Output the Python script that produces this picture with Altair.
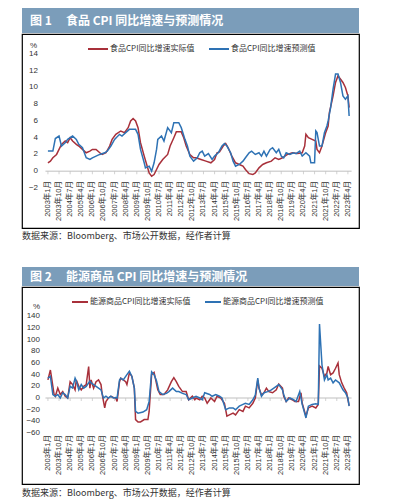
import altair as alt
import pandas as pd

FONT = "Liberation Sans, Noto Sans CJK SC, sans-serif"
CJK = "Noto Sans CJK SC, Liberation Sans, sans-serif"

# month index 0 = 2003年1月
tick_months = list(range(0, 244, 9))

# ---- 图1 食品CPI ----
food_names = ["食品CPI同比增速实际值", "食品CPI同比增速预测值"]
food_act_m = [0,2,4,7,9,11,14,16,18,20,23,25,28,31,34,36,39,42,44,47,50,52,55,59,62,65,67,69,71,73,
              75,78,80,82,84,86,88,90,93,97,99,102,104,108,110,112,115,118,120,124,128,132,135,137,139,142,144,146,149,152,
              155,158,160,163,166,168,171,174,177,181,184,187,190,194,198,202,206,208,209,211,214,217,218,220,222,225,227,228,231,233,
              235,236,239,241,243,244]
food_act_v = [1.0,1.2,1.6,2.0,2.6,3.2,3.6,3.4,4.0,3.6,3.2,3.0,2.6,2.2,2.4,2.6,2.6,2.2,2.0,2.2,
              3.0,3.8,4.4,4.8,4.6,5.2,6.0,6.3,6.0,5.2,3.4,1.8,0.8,-0.2,-0.6,-0.4,0.2,0.8,1.4,2.0,
              3.0,4.0,4.7,4.7,4.0,3.0,2.0,1.6,1.6,1.4,1.2,1.0,1.4,2.2,2.3,3.0,3.3,2.8,1.8,1.0,
              0.8,0.6,0.2,-0.3,-0.4,-0.2,0.4,0.8,1.0,1.2,1.6,1.4,1.6,2.0,2.2,2.1,2.2,3.0,4.4,4.0,
              3.8,3.6,2.6,2.2,3.0,4.6,5.4,7.0,9.0,10.6,11.4,11.2,10.6,10.0,9.0,7.6]
food_fc_m = [0,4,6,9,11,14,16,20,23,25,28,31,34,36,39,42,46,48,51,54,58,60,63,66,71,73,75,78,79,82,
             84,86,88,89,92,94,97,100,102,106,108,111,113,115,118,121,123,125,127,130,133,135,138,141,143,145,148,150,152,155,
             158,160,163,165,168,171,173,175,177,180,182,185,187,189,191,193,196,199,201,204,206,209,212,213,216,217,218,220,222,224,
             226,227,229,231,233,235,237,239,241,243,244]
food_fc_v = [2.4,2.4,3.9,4.2,3.0,3.4,3.8,4.2,3.8,3.2,2.8,1.6,1.4,1.6,1.8,2.0,2.2,2.4,3.0,3.8,
             4.4,4.2,4.6,5.0,5.0,4.4,2.6,1.0,0.4,0.6,0.0,1.0,2.6,3.8,4.2,3.6,5.2,4.6,5.8,5.8,
             5.2,3.8,3.0,1.8,1.2,1.6,2.2,2.4,1.8,2.1,1.4,1.8,2.2,3.0,3.3,3.0,2.2,1.2,0.6,0.8,
             1.2,1.6,2.2,2.4,2.0,2.2,1.8,2.4,1.8,2.6,2.8,2.2,2.6,1.8,1.6,2.2,2.0,2.2,2.1,2.4,
             1.8,2.2,1.8,1.0,1.0,4.8,4.6,3.0,3.0,4.6,5.4,6.0,7.6,9.8,11.6,11.6,10.6,9.0,8.6,9.0,6.6]
food_yticks = [-2, 0, 2, 4, 6, 8, 10, 12, 14]

# ---- 图2 能源商品CPI ----
energy_names = ["能源商品CPI同比增速实际值", "能源商品CPI同比增速预测值"]
energy_act_m = [0,2,3,5,6,8,10,12,14,16,18,20,22,23,25,27,29,31,33,34,35,37,39,41,43,44,46,47,49,51,
                53,55,56,58,59,61,63,64,66,68,70,71,73,75,78,81,82,84,86,87,89,91,94,97,100,102,104,106,109,112,
                114,117,119,
                120,123,125,127,129,132,135,137,140,143,145,147,150,152,155,158,160,163,166,168,
                170,171,173,175,177,179,182,185,187,190,191,193,195,198,200,203,205,206,209,211,
                214,217,219,220,222,224,226,227,229,231,233,235,236,238,240,242,244]
energy_act_v = [31,48,34,6,3,17,6,11,3,0,28,23,14,31,20,14,20,23,54,17,
                31,17,28,31,23,6,-17,-6,0,3,1,0,-6,28,34,31,28,23,43,37,
                17,-37,-41,-41,-37,-37,-23,40,44,34,14,6,6,14,28,35,28,20,11,11,
                -3,3,-3,
                0,-3,3,0,-9,0,-6,3,0,-9,-31,-29,-26,-29,-20,-23,-14,-17,-9,0,
                31,17,5,9,17,11,9,14,24,17,3,-6,0,-3,-6,-6,9,-9,-31,-17,
                -14,-17,-11,55,51,37,43,54,40,43,51,60,40,26,17,9,-13]
energy_fc_m = [0,2,4,6,8,10,12,14,16,18,20,22,23,25,27,29,31,34,35,37,39,41,43,45,47,49,51,53,55,56,
               58,59,61,63,66,68,70,71,73,77,80,82,84,86,88,90,93,96,98,101,104,106,109,112,114,117,
               120,123,125,127,131,133,136,139,141,144,147,150,152,155,158,160,163,166,168,170,
               171,173,175,178,181,183,187,190,191,193,196,199,201,204,206,209,211,214,217,219,
               220,222,224,226,227,229,231,233,236,239,241,243,244]
energy_fc_v = [34,37,6,3,6,0,9,6,0,20,17,34,29,14,23,17,20,29,26,23,20,17,14,0,3,0,3,0,1,0,
               31,34,31,37,46,37,17,-23,-26,-24,-20,-6,45,40,29,11,6,8,11,17,11,11,8,6,-3,0,
               3,0,-3,9,6,3,6,3,0,-20,-17,-17,-20,-14,-11,-9,-11,-3,5,34,
               17,3,9,11,14,17,23,14,6,-6,0,-3,-6,11,-11,-34,-14,-11,-10,-11,
               127,57,31,40,31,34,26,31,26,14,9,0,-14]
energy_yticks = [-60, -40, -20, 0, 20, 40, 60, 80, 100, 120, 140]

RED = "#a8303a"
BLUE = "#2e72b4"
HEADER = "#7b9dba"
TXT = "#333333"
W = 337
XDOM = [-21, 252]


def series_df(names, act_m, act_v, fc_m, fc_v):
    a = pd.DataFrame({"m": act_m, "v": act_v, "s": names[0]})
    f = pd.DataFrame({"m": fc_m, "v": fc_v, "s": names[1]})
    return pd.concat([a, f], ignore_index=True)


def panel(df, names, ydom, yticks, h, ylab_x, pct_x, pct_y, xlab_y, leg_x, leg_y, sym):
    xs = alt.Scale(domain=XDOM, nice=False, zero=False)
    ys = alt.Scale(domain=ydom, nice=False, zero=False)
    X = alt.X("m:Q", scale=xs, axis=None)
    Y = alt.Y("v:Q", scale=ys, axis=None)
    zero = pd.DataFrame({"m": [df["m"].min() - 2], "m2": [df["m"].max() + 2], "v": [0]})
    ticks = pd.DataFrame({"m": tick_months, "v": [0] * len(tick_months)})
    ylabs = pd.DataFrame({"v": yticks})
    one = pd.DataFrame({"a": [0]})

    zl = alt.Chart(zero).mark_rule(color="#bfbfbf", strokeWidth=1).encode(x=X, x2="m2:Q", y=Y)
    tk = alt.Chart(ticks).mark_tick(orient="vertical", size=3, thickness=1,
                                    color="#bfbfbf", yOffset=1.5).encode(x=X, y=Y)
    xl = alt.Chart(ticks).transform_calculate(
        lab="floor(datum.m/12)+2003 + '年' + (datum.m%12+1) + '月'"
    ).mark_text(angle=270, align="right", baseline="middle", fontSize=7.5, font=FONT,
                color=TXT).encode(x=X, y=alt.value(xlab_y), text="lab:N")
    yl = alt.Chart(ylabs).mark_text(align="right", baseline="middle", fontSize=8, font=FONT,
                                    color=TXT).encode(x=alt.value(ylab_x), y=Y, text="v:Q")
    pct = alt.Chart(one).mark_text(align="center", baseline="middle", fontSize=8, font=FONT,
                                   color=TXT).encode(x=alt.value(pct_x), y=alt.value(pct_y),
                                                     text=alt.value("%"))
    ln = alt.Chart(df).mark_line(strokeWidth=1.5).encode(
        x=X, y=Y,
        color=alt.Color("s:N", scale=alt.Scale(domain=names, range=[RED, BLUE]),
                        legend=alt.Legend(orient="none", legendX=leg_x, legendY=leg_y,
                                          direction="horizontal", title=None,
                                          symbolType="stroke", symbolSize=sym * sym,
                                          symbolStrokeWidth=2, labelFontSize=8,
                                          labelFont=CJK, labelColor=TXT,
                                          labelOffset=1, columnPadding=10, padding=0)),
        order=alt.Order("m:Q"))
    return alt.layer(zl, tk, xl, yl, pct, ln).properties(
        width=W, height=h,
        view=alt.ViewBackground(stroke="#000000", strokeWidth=1.2))


def header(num, title, h):
    d = pd.DataFrame({"a": [0]})
    t1 = alt.Chart(d).mark_text(align="left", baseline="middle", color="white",
                                fontWeight="bold", fontSize=12, font=CJK).encode(
        x=alt.value(8), y=alt.value(h / 2), text=alt.value(num))
    t2 = alt.Chart(d).mark_text(align="left", baseline="middle", color="white",
                                fontWeight="bold", fontSize=12, font=CJK).encode(
        x=alt.value(44), y=alt.value(h / 2), text=alt.value(title))
    return alt.layer(t1, t2).properties(
        width=W, height=h, view=alt.ViewBackground(fill=HEADER, strokeWidth=0))


def source(h, ty):
    d = pd.DataFrame({"a": [0]})
    return alt.Chart(d).mark_text(align="left", baseline="middle", color=TXT,
                                  fontSize=9, font=CJK).encode(
        x=alt.value(0), y=alt.value(ty),
        text=alt.value("数据来源：Bloomberg、市场公开数据，经作者计算")).properties(
        width=W, height=h)


food_df = series_df(food_names, food_act_m, food_act_v, food_fc_m, food_fc_v)
energy_df = series_df(energy_names, energy_act_m, energy_act_v, energy_fc_m, energy_fc_v)

p1 = panel(food_df, food_names, [-6.79, 16.39], food_yticks, 194, 16, 11.5, 12, 147, 65, 4, 20)
p2 = panel(energy_df, energy_names, [-147.4, 190.3], energy_yticks, 197, 18, 14.5, 20, 148, 49, 6, 16)

chart = alt.vconcat(
    header("图 1", "食品 CPI 同比增速与预测情况", 25),
    p1,
    source(38, 7),
    header("图 2", "能源商品 CPI 同比增速与预测情况", 19),
    p2,
    source(16, 8),
    spacing=0,
).resolve_scale(color="independent").properties(
    padding={"left": 13, "top": 0, "right": 0, "bottom": 0}
).configure(font=FONT).configure_view(strokeWidth=0)

chart.save("out.html", embed_options={"renderer": "svg", "actions": False})
